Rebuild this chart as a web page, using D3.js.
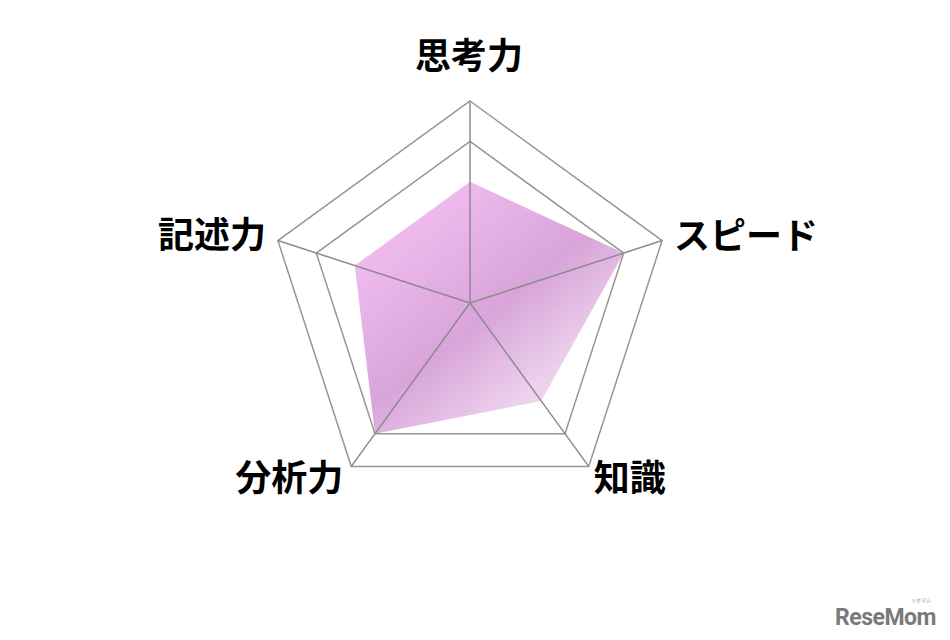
<!DOCTYPE html>
<html>
<head>
<meta charset="utf-8">
<script src="https://cdn.jsdelivr.net/npm/d3@7"></script>
<style>
  html, body { margin: 0; padding: 0; background: #ffffff; }
  svg { display: block; }
</style>
</head>
<body>
<svg id="chart" width="950" height="640"></svg>
<script>
// ---- data ----
const categories = ["思考力", "スピード", "知識", "分析力", "記述力"];
const values = [3, 4, 3, 4, 3];
const maxValue = 5;
const gridLevels = [4, 5];
const watermark = "ReseMom";
const watermarkKana = "リセマム";

// ---- layout ----
const W = 950, H = 640;
const cx = 470, cy = 303, R = 202;
const svg = d3.select("#chart");

const r = d3.scaleLinear().domain([0, maxValue]).range([0, R]);
const angle = d3.scalePoint().domain(categories.concat(["__end"])).range([0, 2 * Math.PI]);

const g = svg.append("g").attr("transform", `translate(${cx},${cy})`);

// gradient
const defs = svg.append("defs");
const grad = defs.append("linearGradient").attr("id", "fillGrad")
  .attr("x1", "0").attr("y1", "0").attr("x2", "0.85").attr("y2", "1");
[["0%", "#f5c0f5"], ["25%", "#ecb8ec"], ["55%", "#d8a4d9"], ["80%", "#ecd0ec"], ["100%", "#f7e6f7"]]
  .forEach(([o, c]) => grad.append("stop").attr("offset", o).attr("stop-color", c));

const radial = d3.lineRadial()
  .angle(d => angle(d.cat))
  .radius(d => r(d.v))
  .curve(d3.curveLinearClosed);

// data area
g.append("path")
  .datum(categories.map((c, i) => ({ cat: c, v: values[i] })))
  .attr("d", radial)
  .attr("fill", "url(#fillGrad)")
  .attr("stroke", "none");

// grid rings
gridLevels.forEach(lv => {
  g.append("path")
    .datum(categories.map(c => ({ cat: c, v: lv })))
    .attr("d", radial)
    .attr("fill", "none")
    .attr("stroke", "#969696")
    .attr("stroke-width", 1.5);
});

// spokes
const pt = (c, v) => {
  const a = angle(c);
  return [r(v) * Math.sin(a), -r(v) * Math.cos(a)];
};
g.selectAll("line.spoke")
  .data(categories)
  .join("line")
  .attr("class", "spoke")
  .attr("x1", 0).attr("y1", 0)
  .attr("x2", d => pt(d, maxValue)[0])
  .attr("y2", d => pt(d, maxValue)[1])
  .attr("stroke", "#8c8c8c")
  .attr("stroke-width", 1.5);

// labels
const labelFont = "'Noto Sans CJK JP', 'Noto Sans', sans-serif";
g.selectAll("text.lab")
  .data(categories)
  .join("text")
  .attr("class", "lab")
  .attr("font-family", labelFont)
  .attr("font-size", 36)
  .attr("font-weight", 700)
  .attr("fill", "#000")
  .each(function (d, i) {
    const [x, y] = pt(d, maxValue);
    const sel = d3.select(this);
    let tx = x, ty = y, anchor = "middle";
    if (i === 0) { ty = y - 48; anchor = "middle"; tx = x - 1; }
    else if (i === 1) { tx = x + 12; ty = y - 8; anchor = "start"; }
    else if (i === 2) { tx = x + 5; ty = y + 9; anchor = "start"; }
    else if (i === 3) { tx = x - 8; ty = y + 9; anchor = "end"; }
    else if (i === 4) { tx = x - 12; ty = y - 9; anchor = "end"; }
    sel.attr("x", tx).attr("y", ty)
      .attr("text-anchor", anchor)
      .attr("dominant-baseline", "central")
      .text(d);
  });

// watermark
svg.append("text")
  .attr("x", 936).attr("y", 625)
  .attr("text-anchor", "end")
  .attr("font-family", "'Liberation Sans Narrow', 'Roboto', 'DejaVu Sans Condensed', sans-serif")
  .attr("font-weight", 700)
  .attr("font-size", 23)
  .attr("fill", "#7a7a7a")
  .attr("letter-spacing", -0.5)
  .text(watermark);
svg.append("text")
  .attr("x", 931).attr("y", 602)
  .attr("text-anchor", "end")
  .attr("font-family", "'Noto Sans CJK JP', sans-serif")
  .attr("font-size", 5)
  .attr("fill", "#8a8a8a")
  .text(watermarkKana);
</script>
</body>
</html>
